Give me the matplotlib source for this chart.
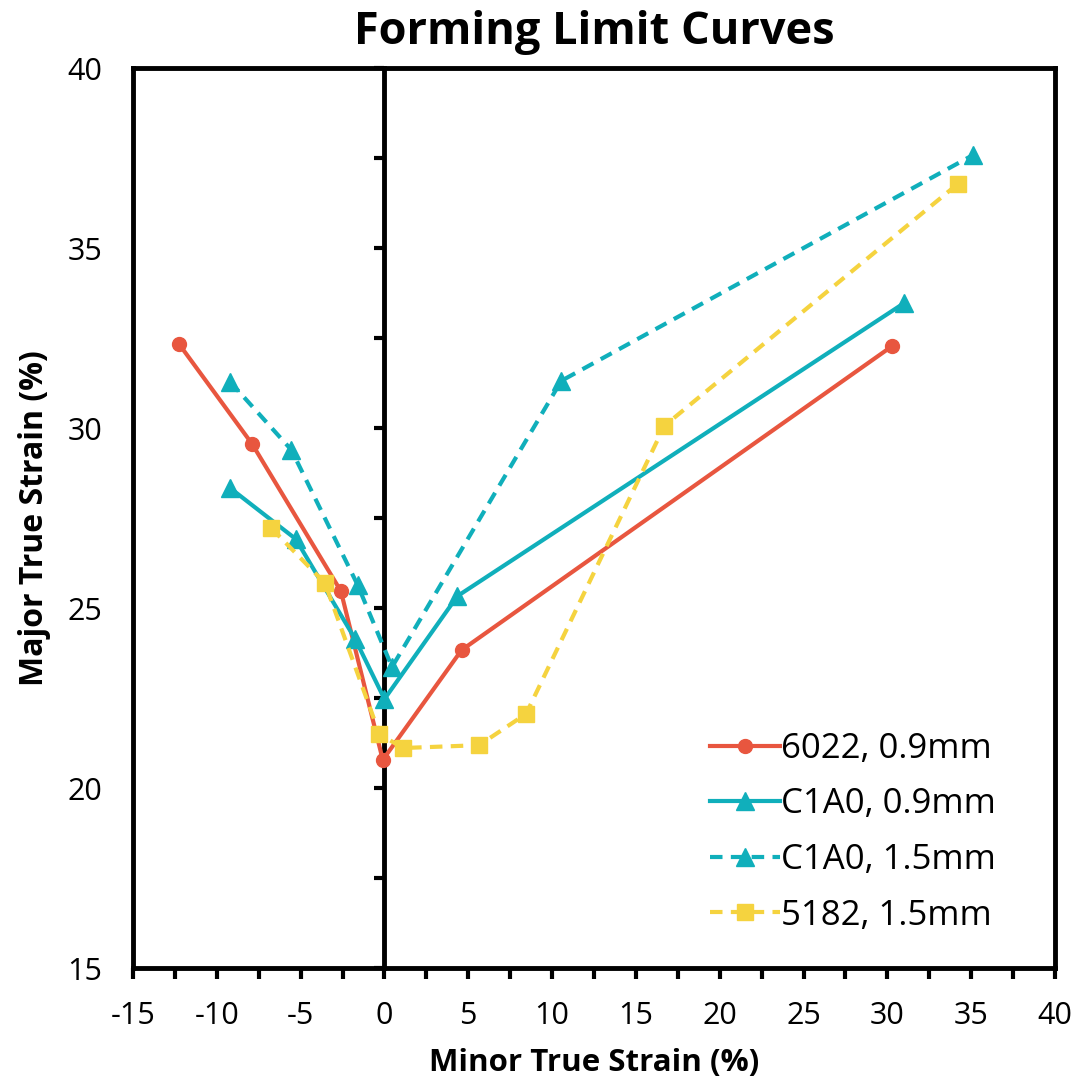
import numpy as np
import matplotlib
matplotlib.use("Agg")
import matplotlib.pyplot as plt
from matplotlib.ticker import MultipleLocator

plt.rcParams['font.family'] = ['Open Sans', 'DejaVu Sans']
plt.rcParams['axes.unicode_minus'] = False

# data
x_6022_09 = [-12.25, -7.9, -2.6, -0.1, 4.6, 30.3]
y_6022_09 = [32.33, 29.56, 25.47, 20.78, 23.83, 32.28]

x_c1a0_09 = [-9.2, -5.3, -1.75, 0.0, 4.35, 31.0]
y_c1a0_09 = [28.33, 26.92, 24.14, 22.47, 25.33, 33.47]

x_c1a0_15 = [-9.2, -5.55, -1.6, 0.45, 10.55, 35.1]
y_c1a0_15 = [31.28, 29.39, 25.64, 23.36, 31.31, 37.58]

x_5182_15 = [-6.75, -3.55, -0.3, 1.1, 5.65, 8.45, 16.7, 34.2]
y_5182_15 = [27.22, 25.69, 21.5, 21.11, 21.19, 22.06, 30.06, 36.78]

red = '#E8563F'
teal = '#10AFBB'
yellow = '#F5D33F'

fig = plt.figure(figsize=(10.78, 10.87), dpi=100)
ax = fig.add_axes([133/1078, 119/1087, 922/1078, 900/1087])

ax.plot(x_6022_09, y_6022_09, color=red, lw=3, marker='o', ms=10, label='6022, 0.9mm', zorder=3)
ax.plot(x_c1a0_09, y_c1a0_09, color=teal, lw=3, marker='^', ms=13, label='C1A0, 0.9mm', zorder=3)
ax.plot(x_c1a0_15, y_c1a0_15, color=teal, lw=3, marker='^', ms=13, ls=(0, (3, 2)), label='C1A0, 1.5mm', zorder=3)
ax.plot(x_5182_15, y_5182_15, color=yellow, lw=3, marker='s', ms=11, ls=(0, (3, 2)), label='5182, 1.5mm', zorder=3)

ax.set_xlim(-15, 40)
ax.set_ylim(15, 40)
ax.xaxis.set_major_locator(MultipleLocator(5))
ax.xaxis.set_minor_locator(MultipleLocator(2.5))
ax.yaxis.set_major_locator(MultipleLocator(5))
ax.tick_params(axis='x', which='both', direction='out', length=8, width=3, labelsize=22, pad=16)
ax.tick_params(axis='y', which='both', length=0, labelsize=22, pad=22)
for s in ax.spines.values():
    s.set_linewidth(3.5)

# vertical axis crossing at x = 0
axz = ax.twinx()
axz.set_ylim(15, 40)
axz.yaxis.set_ticks_position('left')
axz.spines['left'].set_position(('data', 0))
axz.spines['left'].set_linewidth(3.5)
for k in ['right', 'top', 'bottom']:
    axz.spines[k].set_visible(False)
axz.yaxis.set_major_locator(MultipleLocator(2.5))
axz.tick_params(axis='y', direction='out', length=7, width=3, labelleft=False, labelright=False)
axz.set_zorder(ax.get_zorder() - 1)
ax.patch.set_visible(False)

ax.set_title('Forming Limit Curves', fontsize=32.5, fontweight='bold', pad=17)
ax.set_xlabel('Minor True Strain (%)', fontsize=22.5, fontweight='bold', labelpad=12)
ax.set_ylabel('Major True Strain (%)', fontsize=23, fontweight='bold', labelpad=12)

leg = ax.legend(loc='upper left', bbox_to_anchor=(0.592, 0.297), frameon=False, fontsize=25,
                handlelength=2.0, handletextpad=0.05, labelspacing=0.62)

fig.savefig('out.png', dpi=100)
